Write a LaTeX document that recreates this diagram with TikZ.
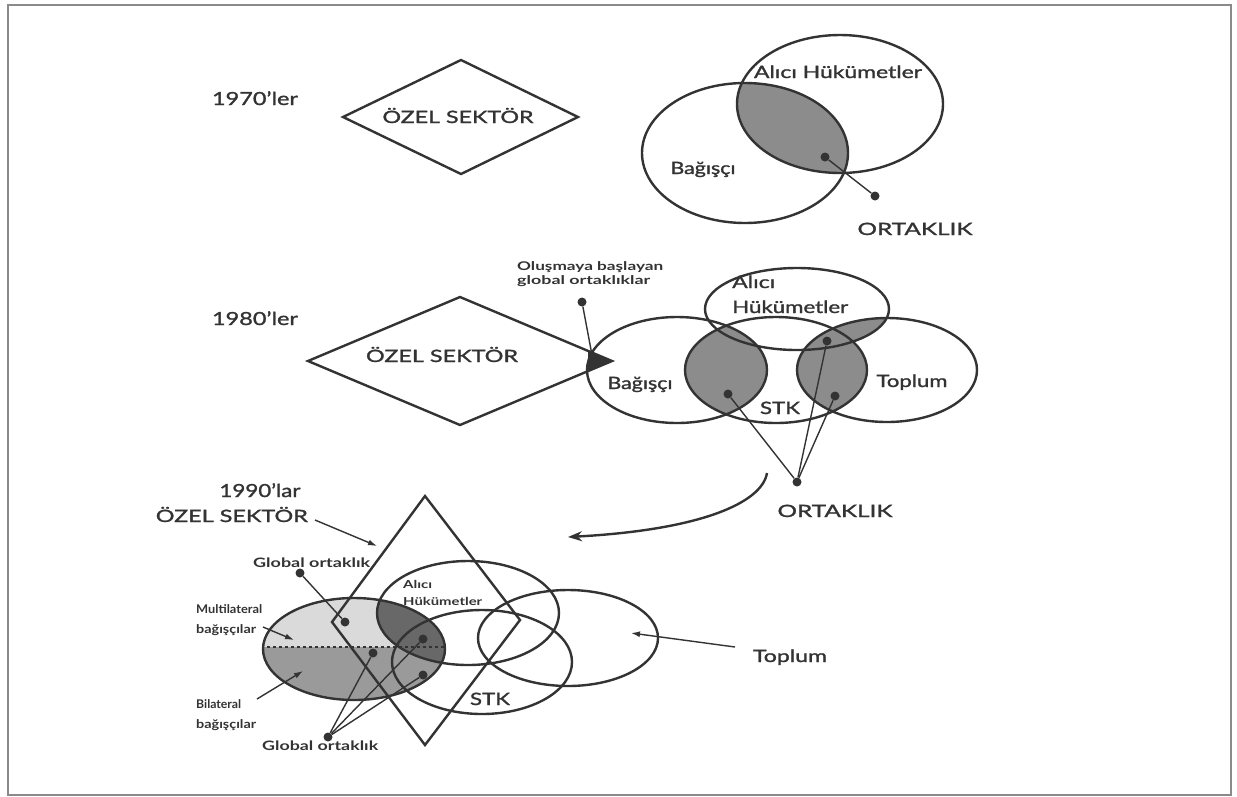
\documentclass[tikz,border=0pt]{standalone}
\usepackage{fontspec}
\setmainfont{Lato}
\newfontfamily\medf[FakeBold=1.3]{Lato}
\usepackage{graphicx}
\usetikzlibrary{arrows.meta}
\definecolor{ink}{HTML}{333333}
\definecolor{lensgray}{HTML}{8C8C8C}
\definecolor{palegray}{HTML}{DADADA}
\definecolor{midgray}{HTML}{9A9A9A}
\definecolor{deepgray}{HTML}{686868}
\definecolor{framegray}{HTML}{8A8A8A}
\newcommand\fit[3]{\resizebox{#1pt}{\height}{\fontsize{#2}{#2}\selectfont\medf #3}}
\newcommand\fitb[3]{\resizebox{#1pt}{\height}{\fontsize{#2}{#2}\selectfont\bfseries #3}}
\begin{document}
\begin{tikzpicture}[x=1pt,y=-1pt,
  shapeline/.style={draw=ink, line width=2.4pt},
  conn/.style={draw=ink, line width=1.4pt},
  dot/.style={circle, fill=ink, inner sep=0pt, minimum size=9pt},
  lab/.style={inner sep=0pt, text=ink, anchor=base},
  labw/.style={inner sep=0pt, text=ink, anchor=base west},
  labe/.style={inner sep=0pt, text=ink, anchor=base east},
  arr/.style={conn, -{Latex[length=9pt,width=6pt]}},
]
\useasboundingbox (0,0) rectangle (1237,796);
\draw[framegray, line width=1.5pt] (8,5) rectangle (1231,795);

% ---------------- 1970s
\begin{scope}
  \clip (745,153) ellipse [x radius=103pt, y radius=70pt];
  \fill[lensgray] (840,104) ellipse [x radius=103pt, y radius=69pt];
\end{scope}
\draw[shapeline] (745,153) ellipse [x radius=103pt, y radius=70pt];
\draw[shapeline] (840,104) ellipse [x radius=103pt, y radius=69pt];
\draw[shapeline] (343,117) -- (461,60) -- (578,117) -- (461,174) -- cycle;
\node[lab] (y70) at (255,105) {\fit{86}{18}{1970’ler}};
\node[lab] (oz1) at (458,123) {\fit{151}{17}{ÖZEL SEKTÖR}};
\node[lab] (ah1) at (838,78) {\fit{168}{17}{Alıcı Hükümetler}};
\node[lab] (bg1) at (703,174) {\fit{65}{17}{Bağışçı}};
\node[lab] (ok1) at (915,235) {\fit{115}{17}{ORTAKLIK}};
\node[dot] (d1) at (825,157) {};
\node[dot] (d2) at (875,196) {};
\draw[conn] (d1) -- (d2);

% ---------------- 1980s
\begin{scope}
  \clip (677,370) ellipse [x radius=90pt, y radius=53pt];
  \fill[lensgray] (776,370) ellipse [x radius=91pt, y radius=53pt];
\end{scope}
\begin{scope}
  \clip (776,370) ellipse [x radius=91pt, y radius=53pt];
  \fill[lensgray] (887,370) ellipse [x radius=90pt, y radius=52pt];
\end{scope}
\begin{scope}
  \clip (797,309) ellipse [x radius=92pt, y radius=41pt];
  \fill[lensgray] (887,370) ellipse [x radius=90pt, y radius=52pt];
\end{scope}
\draw[shapeline] (797,309) ellipse [x radius=92pt, y radius=41pt];
\draw[shapeline] (677,370) ellipse [x radius=90pt, y radius=53pt];
\draw[shapeline] (776,370) ellipse [x radius=91pt, y radius=53pt];
\draw[shapeline] (887,370) ellipse [x radius=90pt, y radius=52pt];
\draw[shapeline] (308,361) -- (460,297) -- (612,361) -- (460,425) -- cycle;
\fill[ink] (588,351) -- (612,361) -- (588,371) -- cycle;
\coordinate (tip2) at (592,355);
\node[lab] (y80) at (255,325) {\fit{86}{18}{1980’ler}};
\node[lab] (oz2) at (442,362) {\fit{152}{17}{ÖZEL SEKTÖR}};
\node[labw] (ol1) at (517,270) {\fitb{146}{12}{Oluşmaya başlayan}};
\node[labw] (ol2) at (517,284) {\fitb{133}{12}{global ortaklıklar}};
\node[labw] (ah2a) at (732,288) {\fit{43}{17}{Alıcı}};
\node[labw] (ah2b) at (732,313) {\fit{116}{17}{Hükümetler}};
\node[lab] (bg2) at (640,389) {\fit{65}{17}{Bağışçı}};
\node[lab] (stk2) at (780,414) {\fit{40}{17}{STK}};
\node[lab] (tp2) at (912,387) {\fit{71}{17}{Toplum}};
\node[lab] (ok2) at (835,517) {\fit{115}{17}{ORTAKLIK}};
\node[dot] (og) at (582,302) {};
\draw[conn] (og) -- (tip2);
\node[dot] (e1) at (728,394) {};
\node[dot] (e2) at (827,341) {};
\node[dot] (e3) at (835,396) {};
\node[dot] (ec) at (797,482) {};
\draw[conn] (ec) -- (e1);
\draw[conn] (ec) -- (e2);
\draw[conn] (ec) -- (e3);
\coordinate (cs) at (767,473);
\coordinate (ce) at (568,537);
\draw[draw=ink, line width=2.4pt, -{Stealth[length=14pt,width=10pt]}] (cs) .. controls (762,503) and (700,530) .. (ce);

% ---------------- 1990s
\begin{scope}
  \clip (354,649) ellipse [x radius=91pt, y radius=51pt];
  \fill[palegray] (250,590) rectangle (450,647);
  \fill[midgray] (250,647) rectangle (450,710);
  \fill[deepgray] (468,613) ellipse [x radius=91pt, y radius=52pt];
  \draw[ink, line width=1.3pt, dashed] (255,647) -- (450,647);
\end{scope}
\draw[shapeline] (354,649) ellipse [x radius=91pt, y radius=51pt];
\draw[shapeline] (468,613) ellipse [x radius=91pt, y radius=52pt];
\draw[shapeline] (482,662) ellipse [x radius=90pt, y radius=52pt];
\draw[shapeline] (568,638) ellipse [x radius=90pt, y radius=48pt];
\draw[shapeline] (425,496) -- (520,620) -- (425,745) -- (332,622) -- cycle;
\node[lab] (y90) at (260,497) {\fit{81}{18}{1990’lar}};
\node[labe] (oz3) at (308,522) {\fit{152}{17}{ÖZEL SEKTÖR}};
\node[labw] (go1) at (253,567) {\fitb{117}{13}{Global ortaklık}};
\node[labw] (ml1) at (196,613) {\fitb{66}{12}{Multilateral}};
\node[labw] (ml2) at (196,633) {\fitb{60}{12}{bağışçılar}};
\node[labw] (bl1) at (196,708) {\fitb{45}{12}{Bilateral}};
\node[labw] (bl2) at (196,728) {\fitb{60}{12}{bağışçılar}};
\node[labw] (go2) at (262,750) {\fitb{116}{13}{Global ortaklık}};
\node[labw] (ah3a) at (403,588) {\fitb{29}{11}{Alıcı}};
\node[labw] (ah3b) at (403,605) {\fitb{79}{11}{Hükümetler}};
\node[lab] (stk3) at (490,705) {\fit{40}{17}{STK}};
\node[lab] (tp3) at (790,662) {\fit{74}{17}{Toplum}};
\coordinate (oz3s) at (315,520);
\coordinate (oz3t) at (377,546);
\draw[arr] (oz3s) -- (oz3t);
\coordinate (mls) at (263,627);
\coordinate (mlt) at (294,640);
\draw[arr] (mls) -- (mlt);
\coordinate (bls) at (257,699);
\coordinate (blt) at (303,671);
\draw[arr] (bls) -- (blt);
\coordinate (tps) at (735,647);
\coordinate (tpt) at (631,633);
\draw[arr] (tps) -- (tpt);
\node[dot] (g1) at (300,573) {};
\node[dot] (fa) at (345,622) {};
\node[dot] (fb) at (373,653) {};
\node[dot] (fc) at (423,639) {};
\node[dot] (fe) at (423,675) {};
\node[dot] (g2) at (328,737) {};
\draw[conn] (g1) -- (fa);
\draw[conn] (g2) -- (fb);
\draw[conn] (g2) -- (fc);
\draw[conn] (g2) -- (fe);
\end{tikzpicture}
\end{document}
